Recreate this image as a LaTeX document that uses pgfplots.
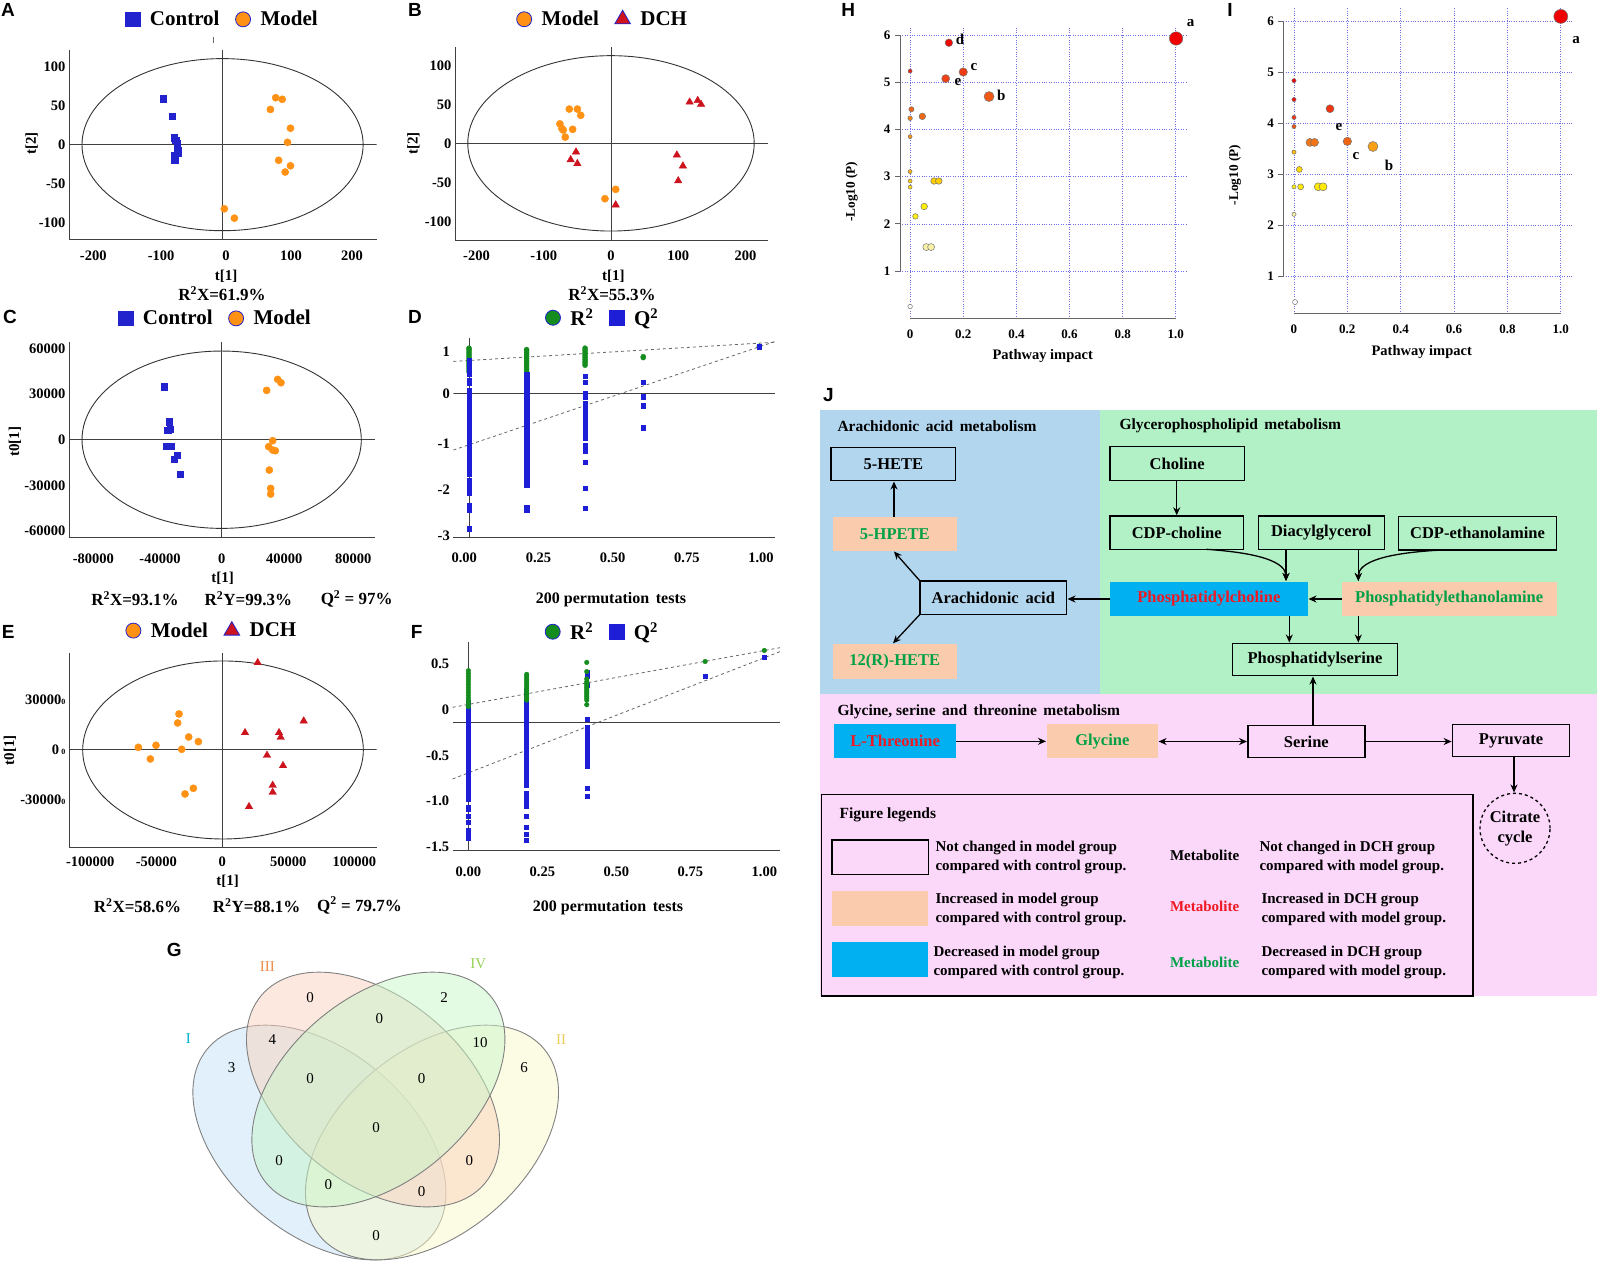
\documentclass[border=0pt]{standalone}
\usepackage{pgfplots}
\pgfplotsset{compat=1.18}
\usepackage{fontspec}
\setmainfont{Liberation Serif}
\newfontfamily\lettf{Liberation Sans}
\usetikzlibrary{arrows.meta}

\definecolor{ctrlblue}{RGB}{35,35,205}
\definecolor{modorange}{RGB}{255,146,20}
\definecolor{dchred}{RGB}{205,20,30}
\definecolor{r2green}{RGB}{20,140,30}
\definecolor{q2blue}{RGB}{30,30,215}
\definecolor{gridblue}{RGB}{110,110,230}
\definecolor{salmon}{RGB}{250,203,172}
\definecolor{cyanbox}{RGB}{0,176,240}
\definecolor{bgblue}{RGB}{178,214,238}
\definecolor{bggreen}{RGB}{178,240,198}
\definecolor{bgpink}{RGB}{251,215,250}
\definecolor{mgreen}{RGB}{0,160,70}
\definecolor{mred}{RGB}{240,25,35}
\definecolor{vI}{RGB}{195,225,245}
\definecolor{vII}{RGB}{250,248,200}
\definecolor{vIII}{RGB}{250,210,190}
\definecolor{vIV}{RGB}{200,245,200}

\newcommand{\fs}[1]{\fontsize{#1}{#1}\selectfont}

\pgfplotsset{
  base/.style={scale only axis, anchor=south west, scaled ticks=false,
    ticklabel style={font=\bfseries\fs{14.5}}, tick style={draw=none},
    axis line style={black!75, line width=0.9pt},
    axis x line*=bottom, axis y line*=left},
  toplegend/.style 2 args={legend style={draw=none, fill=none, legend columns=-1,
    font=\bfseries\fs{21}, at={(#1,#2)}, anchor=center,
    /tikz/every odd column/.append style={column sep=8pt},
    /tikz/every even column/.append style={column sep=14pt}}},
  pathway/.style={base, axis line style={draw=none}, grid=major, clip=false,
    major grid style={gridblue, dotted, line width=0.7pt},
    xtick={0,0.2,0.4,0.6,0.8,1}, xticklabels={0,0.2,0.4,0.6,0.8,1.0},
    ytick={1,2,3,4,5,6}, yticklabels={1,2,3,4,5,6},
    ticklabel style={font=\bfseries\fs{13}},
    yticklabel style={xshift=-6pt}, xticklabel style={yshift=-8pt},
    point meta min=0, point meta max=6,
    colormap={heat}{rgb255(0cm)=(255,255,255) rgb255(1.5cm)=(250,240,170)
      rgb255(2.3cm)=(255,240,0) rgb255(2.9cm)=(255,205,0) rgb255(3.6cm)=(250,160,20)
      rgb255(4.3cm)=(240,110,20) rgb255(5.2cm)=(240,60,20) rgb255(6cm)=(240,0,0)}},
  bubble/.style={scatter, only marks, mark=*, point meta=\thisrow{c},
    scatter/use mapped color={draw=black!55, fill=mapped color},
    visualization depends on={\thisrow{r} \as \rad},
    scatter/@pre marker code/.append style={/tikz/mark size=\rad pt},
    mark options={line width=0.5pt}}
}

\tikzset{
  arr/.style={-{Stealth[length=8pt,width=7pt]}, line width=1.3pt},
  bx/.style={draw=black, line width=1.4pt},
  letter/.style={font=\lettf\bfseries\fs{19}}
}

\begin{document}
\begin{tikzpicture}[x=1pt,y=1pt]
\path[use as bounding box] (0,0) rectangle (1598,-1262);

% ---------------- A
\begin{axis}[base, at={(69pt,-239.3pt)}, width=307.7pt, height=189.3pt,
  xmin=-260, xmax=261, ymin=-121, ymax=121,
  xtick={-219,-104,6,116,219}, xticklabels={-200,-100,0,100,200},
  xticklabel style={yshift=-8pt},
  ytick={-100,-50,0,50,100}, yticklabels={-100,-50,0,50,100},
  toplegend={0.499}{1.162}]
\addlegendimage{only marks, mark=square*, mark size=7.3pt, ctrlblue}
\addlegendentry{Control}
\addlegendimage{only marks, mark=*, mark size=7.5pt, mark options={fill=modorange, draw=ctrlblue, line width=0.8pt}}
\addlegendentry{Model}
\draw[black!75, line width=0.9pt] (axis cs:-260,0) -- (axis cs:261,0);
\draw[black!75, line width=0.9pt] (axis cs:0,-121) -- (axis cs:0,121);
\draw[black!80, line width=0.9pt] (axis cs:0,0) ellipse [x radius=238, y radius=110];
\addplot[only marks, mark=square*, mark size=3.2pt, ctrlblue, forget plot] coordinates {
(-100,59) (-85,36) (-82,9) (-79,6) (-77,2) (-77,-3) (-76,-7) (-75,-11) (-81,-14) (-81,-20)};
\addplot[only marks, mark=*, mark size=3.6pt, modorange, forget plot] coordinates {
(90,60) (101,58) (81,45) (115,21) (110,3) (95,-20) (115,-27) (106,-35) (3,-82) (20,-94)};
\end{axis}
\draw[black!60, line width=0.6pt] (213.3,-37) -- (213.3,-43);
\node[font=\bfseries\fs{15}, rotate=90] at (31.7,-143.3) {t[2]};
\node[font=\bfseries\fs{15}] at (226,-276) {t[1]};
\node[font=\bfseries\fs{17}] at (222,-294) {R\textsuperscript{2}X=61.9\%};

% ---------------- B
\begin{axis}[base, at={(455pt,-240pt)}, width=313.3pt, height=193.3pt,
  xmin=-232, xmax=234, ymin=-124, ymax=124,
  xtick={-200,-100,0,100,200}, xticklabels={-200,-100,0,100,200},
  xticklabel style={yshift=-7pt},
  ytick={-100,-50,0,50,100}, yticklabels={-100,-50,0,50,100},
  toplegend={0.472}{1.142}]
\addlegendimage{only marks, mark=*, mark size=7.5pt, mark options={fill=modorange, draw=ctrlblue, line width=0.8pt}}
\addlegendentry{Model}
\addlegendimage{only marks, mark=triangle*, mark size=9pt, mark options={fill=dchred, draw=ctrlblue, line width=0.8pt}}
\addlegendentry{DCH}
\draw[black!75, line width=0.9pt] (axis cs:-232,0) -- (axis cs:234,0);
\draw[black!75, line width=0.9pt] (axis cs:0,-124) -- (axis cs:0,124);
\draw[black!80, line width=0.9pt] (axis cs:0,0) ellipse [x radius=213, y radius=112.5];
\addplot[only marks, mark=*, mark size=3.6pt, modorange, forget plot] coordinates {
(-62,44) (-50,44) (-45,36) (-76,25) (-73,19) (-71,17) (-57,18) (-68,8) (-9,-71) (7,-59)};
\addplot[only marks, mark=triangle*, mark size=4.3pt, dchred, forget plot] coordinates {
(117,53) (129,55) (134,50) (-52,-11) (-60,-21) (-50,-26) (98,-15) (107,-29) (100,-48) (7,-79)};
\end{axis}
\node[font=\bfseries\fs{15}, rotate=90] at (413.3,-143.3) {t[2]};
\node[font=\bfseries\fs{15}] at (613.3,-276) {t[1]};
\node[font=\bfseries\fs{17}] at (612,-294) {R\textsuperscript{2}X=55.3\%};

% ---------------- C
\begin{axis}[base, at={(69pt,-537.7pt)}, width=306pt, height=196pt,
  xmin=-80350, xmax=80700, ymin=-64380, ymax=64380,
  xtick={-67544,-32456,0,32982,69298}, xticklabels={-80000,-40000,0,40000,80000},
  xticklabel style={yshift=-13pt},
  ytick={-60000,-30000,0,30000,60000}, yticklabels={-60000,-30000,0,30000,60000},
  toplegend={0.479}{1.119}]
\addlegendimage{only marks, mark=square*, mark size=7.3pt, ctrlblue}
\addlegendentry{Control}
\addlegendimage{only marks, mark=*, mark size=7.5pt, mark options={fill=modorange, draw=ctrlblue, line width=0.8pt}}
\addlegendentry{Model}
\draw[black!75, line width=0.9pt] (axis cs:-80350,0) -- (axis cs:80700,0);
\draw[black!75, line width=0.9pt] (axis cs:0,-64380) -- (axis cs:0,64380);
\draw[black!80, line width=0.9pt] (axis cs:0,0) ellipse [x radius=73500, y radius=58250];
\addplot[only marks, mark=square*, mark size=3.2pt, ctrlblue, forget plot] coordinates {
(-30175,34818) (-27719,11825) (-28421,6350) (-27193,7007) (-28947,-4161) (-26667,-4161)
(-23509,-10073) (-24912,-12700) (-21930,-22555)};
\addplot[only marks, mark=*, mark size=3.6pt, modorange, forget plot] coordinates {
(23684,32409) (29474,39635) (31228,37445) (26842,-657) (24737,-4599) (26842,-6788)
(28246,-7226) (25088,-19927) (25789,-31971) (25789,-35693)};
\end{axis}
\node[font=\bfseries\fs{15}, rotate=90] at (15,-441.7) {t0[1]};
\node[font=\bfseries\fs{15}] at (222.7,-578.3) {t[1]};
\node[font=\bfseries\fs{17}] at (135,-599) {R\textsuperscript{2}X=93.1\%};
\node[font=\bfseries\fs{17}] at (248.3,-599) {R\textsuperscript{2}Y=99.3\%};
\node[font=\bfseries\fs{17}] at (356.7,-599) {Q\textsuperscript{2} = 97\%};

% ---------------- D
\begin{axis}[base, at={(453.3pt,-537.3pt)}, width=321.7pt, height=199.6pt,
  xmin=-0.037, xmax=1.047, ymin=-3.03, ymax=1.18,
  y axis line style={draw=none},
  xtick={0,0.25,0.5,0.75,1}, xticklabels={0.00,0.25,0.50,0.75,1.00},
  xticklabel style={yshift=-12pt},
  ytick={0.89,0,-1.05,-2.03,-3.0}, yticklabels={1,0,-1,-2,-3},
  toplegend={0.465}{1.10}]
\addlegendimage{only marks, mark=*, mark size=7.5pt, mark options={fill=r2green, draw=ctrlblue, line width=0.8pt}}
\addlegendentry{R\textsuperscript{2}}
\addlegendimage{only marks, mark=square*, mark size=7.3pt, q2blue}
\addlegendentry{Q\textsuperscript{2}}
\draw[black!75, line width=0.9pt] (axis cs:-0.037,0) -- (axis cs:1.047,0);
\draw[black!75, line width=0.9pt] (axis cs:0.016,-3.03) -- (axis cs:0.016,1.18);
\addplot[black!60, dashed, line width=0.8pt, forget plot] coordinates {(-0.037,0.68) (1.047,1.085)};
\addplot[black!60, dashed, line width=0.8pt, forget plot] coordinates {(-0.037,-1.19) (1.047,1.10)};
\addplot[only marks, mark=*, mark size=2.5pt, r2green, forget plot] coordinates {
(0.016,0.46) (0.016,0.50) (0.016,0.54) (0.016,0.58) (0.016,0.62) (0.016,0.66) (0.016,0.70)
(0.016,0.74) (0.016,0.78) (0.016,0.82) (0.016,0.86) (0.016,0.90) (0.016,0.94) (0.016,0.96)
(0.21,0.46) (0.21,0.50) (0.21,0.54) (0.21,0.58) (0.21,0.62) (0.21,0.66) (0.21,0.70)
(0.21,0.74) (0.21,0.78) (0.21,0.82) (0.21,0.86) (0.21,0.90) (0.21,0.93)
(0.407,0.60) (0.407,0.64) (0.407,0.68) (0.407,0.72) (0.407,0.76) (0.407,0.80) (0.407,0.84)
(0.407,0.88) (0.407,0.92) (0.407,0.96)
(0.603,0.76) (0.603,0.78) (0.994,1.00)};
\addplot[only marks, mark=square*, mark size=2.2pt, q2blue, forget plot] coordinates {
(0.016,0.70) (0.016,0.66) (0.016,0.62) (0.016,0.55) (0.016,0.50) (0.016,0.45) (0.016,0.42)
(0.016,0.27) (0.016,0.22) (0.016,0.06) (0.016,0.02) (0.016,-0.02) (0.016,-0.06) (0.016,-0.10)
(0.016,-0.14) (0.016,-0.18) (0.016,-0.22) (0.016,-0.26) (0.016,-0.30) (0.016,-0.34) (0.016,-0.38)
(0.016,-0.42) (0.016,-0.46) (0.016,-0.50) (0.016,-0.54) (0.016,-0.58) (0.016,-0.62) (0.016,-0.66)
(0.016,-0.70) (0.016,-0.74) (0.016,-0.78) (0.016,-0.82) (0.016,-0.86) (0.016,-0.90) (0.016,-0.94)
(0.016,-0.98) (0.016,-1.02) (0.016,-1.06) (0.016,-1.10) (0.016,-1.14) (0.016,-1.18) (0.016,-1.22)
(0.016,-1.26) (0.016,-1.30) (0.016,-1.34) (0.016,-1.38) (0.016,-1.42) (0.016,-1.46) (0.016,-1.50)
(0.016,-1.54) (0.016,-1.58) (0.016,-1.62) (0.016,-1.66) (0.016,-1.70) (0.016,-1.83) (0.016,-1.92)
(0.016,-1.97) (0.016,-2.05) (0.016,-2.10) (0.016,-2.35) (0.016,-2.42) (0.016,-2.45) (0.016,-2.85)
(0.21,0.40) (0.21,0.36) (0.21,0.32) (0.21,0.28) (0.21,0.24) (0.21,0.20) (0.21,0.16) (0.21,0.12)
(0.21,0.08) (0.21,0.04) (0.21,0.00) (0.21,-0.04) (0.21,-0.08) (0.21,-0.12) (0.21,-0.16) (0.21,-0.20)
(0.21,-0.24) (0.21,-0.28) (0.21,-0.32) (0.21,-0.36) (0.21,-0.40) (0.21,-0.44) (0.21,-0.48) (0.21,-0.52)
(0.21,-0.56) (0.21,-0.60) (0.21,-0.64) (0.21,-0.68) (0.21,-0.72) (0.21,-0.76) (0.21,-0.80) (0.21,-0.84)
(0.21,-0.88) (0.21,-0.92) (0.21,-0.96) (0.21,-1.00) (0.21,-1.04) (0.21,-1.08) (0.21,-1.12) (0.21,-1.16)
(0.21,-1.20) (0.21,-1.24) (0.21,-1.28) (0.21,-1.32) (0.21,-1.36) (0.21,-1.40) (0.21,-1.44) (0.21,-1.48)
(0.21,-1.52) (0.21,-1.56) (0.21,-1.60) (0.21,-1.64) (0.21,-1.68) (0.21,-1.72) (0.21,-1.76) (0.21,-1.80)
(0.21,-1.84) (0.21,-1.88) (0.21,-1.92) (0.21,-2.39) (0.21,-2.46)
(0.407,0.37) (0.407,0.24) (0.407,0.00) (0.407,-0.06) (0.407,-0.20) (0.407,-0.25) (0.407,-0.35)
(0.407,-0.40) (0.407,-0.45) (0.407,-0.50) (0.407,-0.55) (0.407,-0.60) (0.407,-0.65) (0.407,-0.70)
(0.407,-0.75) (0.407,-0.80) (0.407,-0.87) (0.407,-0.94) (0.407,-1.10) (0.407,-1.16) (0.407,-1.22)
(0.407,-1.44) (0.407,-1.99) (0.407,-2.41)
(0.603,0.24) (0.603,-0.06) (0.603,-0.25) (0.603,-0.72) (0.994,0.99)};
\end{axis}
\node[font=\bfseries\fs{16}] at (611,-600) {200 permutation\, tests};

% ---------------- E
\begin{axis}[base, at={(69pt,-847.3pt)}, width=307.7pt, height=194pt,
  xmin=-116162, xmax=116919, ymin=-58600, ymax=57800,
  xtick={-100000,-50000,0,50000,100000}, xticklabels={-100000,-50000,0,50000,100000},
  xticklabel style={yshift=-6pt},
  ytick={-30000,0,30000},
  yticklabels={{-30000\fs{8}0},{0\,\fs{8}0},{30000\fs{8}0}},
  toplegend={0.465}{1.117}]
\addlegendimage{only marks, mark=*, mark size=7.5pt, mark options={fill=modorange, draw=ctrlblue, line width=0.8pt}}
\addlegendentry{Model}
\addlegendimage{only marks, mark=triangle*, mark size=9pt, mark options={fill=dchred, draw=ctrlblue, line width=0.8pt}}
\addlegendentry{DCH}
\draw[black!75, line width=0.9pt] (axis cs:-116162,0) -- (axis cs:116919,0);
\draw[black!75, line width=0.9pt] (axis cs:0,-58600) -- (axis cs:0,57800);
\draw[black!80, line width=0.9pt] (axis cs:500,-200) ellipse [x radius=106300, y radius=53400];
\addplot[only marks, mark=*, mark size=3.6pt, modorange, forget plot] coordinates {
(-32828,21400) (-33838,16000) (-25505,7600) (-18182,4800) (-50253,2600) (-63636,1400)
(-30808,200) (-54545,-5600) (-21970,-23200) (-28283,-26600)};
\addplot[only marks, mark=triangle*, mark size=4.3pt, dchred, forget plot] coordinates {
(26768,52200) (61616,17200) (17172,10200) (42929,10200) (44192,7400) (33838,-3400)
(45960,-9600) (38131,-21400) (38131,-25600) (20202,-34200)};
\end{axis}
\node[font=\bfseries\fs{15}, rotate=90] at (10,-750) {t0[1]};
\node[font=\bfseries\fs{15}] at (227.7,-881) {t[1]};
\node[font=\bfseries\fs{17}] at (137.5,-905.3) {R\textsuperscript{2}X=58.6\%};
\node[font=\bfseries\fs{17}] at (256.6,-905.3) {R\textsuperscript{2}Y=88.1\%};
\node[font=\bfseries\fs{17}] at (359.5,-905.3) {Q\textsuperscript{2} = 79.7\%};

% ---------------- F
\begin{axis}[base, at={(452.7pt,-850pt)}, width=327.3pt, height=208.3pt,
  xmin=-0.053, xmax=1.053, ymin=-1.53, ymax=0.735,
  y axis line style={draw=none},
  xtick={0,0.25,0.5,0.75,1}, xticklabels={0.00,0.25,0.50,0.75,1.00},
  xticklabel style={yshift=-13pt},
  ytick={0.5,0,-0.5,-1,-1.5}, yticklabels={0.5,0,-0.5,-1.0,-1.5},
  toplegend={0.458}{1.048}]
\addlegendimage{only marks, mark=*, mark size=7.5pt, mark options={fill=r2green, draw=ctrlblue, line width=0.8pt}}
\addlegendentry{R\textsuperscript{2}}
\addlegendimage{only marks, mark=square*, mark size=7.3pt, q2blue}
\addlegendentry{Q\textsuperscript{2}}
\draw[black!75, line width=0.9pt] (axis cs:-0.053,-0.141) -- (axis cs:1.053,-0.141);
\draw[black!75, line width=0.9pt] (axis cs:0,-1.53) -- (axis cs:0,0.735);
\addplot[black!60, dashed, line width=0.8pt, forget plot] coordinates {(-0.053,0.022) (1.053,0.67)};
\addplot[black!60, dashed, line width=0.8pt, forget plot] coordinates {(-0.053,-0.757) (1.053,0.627)};
\addplot[only marks, mark=square*, mark size=2pt, q2blue, forget plot] coordinates {
(0,0.08) (0,0.06) (0,0.04) (0,0.02) (0,0.00) (0,-0.02) (0,-0.04) (0,-0.06) (0,-0.08) (0,-0.10)
(0,-0.14) (0,-0.16) (0,-0.20) (0,-0.22) (0,-0.24) (0,-0.26) (0,-0.28) (0,-0.30) (0,-0.32) (0,-0.34)
(0,-0.36) (0,-0.38) (0,-0.40) (0,-0.42) (0,-0.44) (0,-0.46) (0,-0.48) (0,-0.50) (0,-0.52) (0,-0.54)
(0,-0.56) (0,-0.58) (0,-0.60) (0,-0.62) (0,-0.64) (0,-0.66) (0,-0.68) (0,-0.70) (0,-0.72) (0,-0.74)
(0,-0.76) (0,-0.78) (0,-0.80) (0,-0.82) (0,-0.84) (0,-0.86) (0,-0.88) (0,-0.90) (0,-0.92) (0,-0.94)
(0,-0.96) (0,-0.98) (0,-1.06) (0,-1.09) (0,-1.16) (0,-1.23) (0,-1.31) (0,-1.35) (0,-1.38) (0,-1.40)
(0.197,0.21) (0.197,0.19) (0.197,0.17) (0.197,0.15) (0.197,0.13) (0.197,0.11) (0.197,0.09) (0.197,0.07)
(0.197,0.05) (0.197,0.03) (0.197,0.01) (0.197,-0.01) (0.197,-0.03) (0.197,-0.05) (0.197,-0.07)
(0.197,-0.09) (0.197,-0.11) (0.197,-0.13) (0.197,-0.15) (0.197,-0.17) (0.197,-0.19) (0.197,-0.21)
(0.197,-0.23) (0.197,-0.25) (0.197,-0.27) (0.197,-0.29) (0.197,-0.31) (0.197,-0.33) (0.197,-0.35)
(0.197,-0.37) (0.197,-0.39) (0.197,-0.41) (0.197,-0.43) (0.197,-0.45) (0.197,-0.47) (0.197,-0.49)
(0.197,-0.51) (0.197,-0.53) (0.197,-0.55) (0.197,-0.57) (0.197,-0.59) (0.197,-0.61) (0.197,-0.63)
(0.197,-0.65) (0.197,-0.67) (0.197,-0.69) (0.197,-0.71) (0.197,-0.73) (0.197,-0.75) (0.197,-0.77)
(0.197,-0.79) (0.197,-0.81) (0.197,-0.83) (0.197,-0.91) (0.197,-0.96) (0.197,-1.00) (0.197,-1.05)
(0.197,-1.16) (0.197,-1.28) (0.197,-1.36) (0.197,-1.42)
(0.40,0.40) (0.40,0.36) (0.40,0.26) (0.40,-0.11) (0.40,-0.19) (0.40,-0.22) (0.40,-0.24) (0.40,-0.26)
(0.40,-0.28) (0.40,-0.30) (0.40,-0.32) (0.40,-0.34) (0.40,-0.36) (0.40,-0.38) (0.40,-0.40) (0.40,-0.42)
(0.40,-0.44) (0.40,-0.46) (0.40,-0.48) (0.40,-0.50) (0.40,-0.52) (0.40,-0.54) (0.40,-0.56) (0.40,-0.58)
(0.40,-0.60) (0.40,-0.62) (0.40,-0.86) (0.40,-0.95)
(0.80,0.36) (1.0,0.565)};
\addplot[only marks, mark=*, mark size=2.3pt, r2green, forget plot] coordinates {
(0,0.03) (0,0.06) (0,0.09) (0,0.12) (0,0.15) (0,0.18) (0,0.21) (0,0.24) (0,0.27) (0,0.30)
(0,0.33) (0,0.36) (0,0.39) (0,0.42)
(0.197,0.10) (0.197,0.12) (0.197,0.14) (0.197,0.16) (0.197,0.18) (0.197,0.20) (0.197,0.22)
(0.197,0.24) (0.197,0.26) (0.197,0.28) (0.197,0.30) (0.197,0.32) (0.197,0.34) (0.197,0.36) (0.197,0.38)
(0.40,0.51) (0.40,0.41) (0.40,0.33) (0.40,0.30) (0.40,0.28) (0.40,0.26) (0.40,0.24) (0.40,0.22)
(0.40,0.20) (0.40,0.18) (0.40,0.16) (0.40,0.14) (0.40,0.12) (0.40,0.10) (0.40,0.05)
(0.80,0.52) (1.0,0.64)};
\end{axis}
\node[font=\bfseries\fs{16}] at (608,-907.3) {200 permutation\, tests};

% ---------------- H
\begin{axis}[pathway, at={(900pt,-318.3pt)}, width=286.7pt, height=291.6pt,
  xmin=-0.038, xmax=1.041, ymin=0, ymax=6.18]
\addplot[bubble] table {
x y r c
0 0.25 2.3 0
0.061 1.51 3.5 1.5
0.079 1.51 3.5 1.5
0.020 2.16 2.8 2.2
0.053 2.37 3.3 2.3
0.090 2.91 3.3 2.9
0.108 2.91 3.3 2.9
0 2.78 2.0 2.6
0 2.91 2.0 3.0
0 3.11 2.0 3.3
0 3.85 2.0 3.8
0 4.24 2.3 4.0
0.046 4.28 3.3 4.4
0.005 4.43 2.6 4.5
0 5.24 2.0 5.6
0.297 4.70 5.0 4.7
0.134 5.08 4.0 5.1
0.200 5.22 4.2 5.2
0.146 5.84 3.8 5.9
1.001 5.93 6.7 6
};
\draw[black!60, line width=1pt] (axis cs:-0.038,1) -- (axis cs:-0.038,6);
\draw[black!60, line width=1pt] (axis cs:-0.038,1) -- ++(-5pt,0pt);
\draw[black!60, line width=1pt] (axis cs:-0.038,2) -- ++(-5pt,0pt);
\draw[black!60, line width=1pt] (axis cs:-0.038,3) -- ++(-5pt,0pt);
\draw[black!60, line width=1pt] (axis cs:-0.038,4) -- ++(-5pt,0pt);
\draw[black!60, line width=1pt] (axis cs:-0.038,5) -- ++(-5pt,0pt);
\draw[black!60, line width=1pt] (axis cs:-0.038,6) -- ++(-5pt,0pt);
\draw[black!60, line width=1pt] (axis cs:0,0) -- (axis cs:1,0);
\end{axis}
\node[font=\bfseries\fs{14.5}] at (1042.7,-356) {Pathway impact};
\node[font=\bfseries\fs{13.3}, rotate=90] at (851.7,-191.7) {-Log10 (P)};
\node[font=\bfseries\fs{15}] at (1190.7,-23.3) {a};
\node[font=\bfseries\fs{15}] at (960,-39) {d};
\node[font=\bfseries\fs{15}] at (974,-66.7) {c};
\node[font=\bfseries\fs{15}] at (958,-82.3) {e};
\node[font=\bfseries\fs{15}] at (1001.3,-95) {b};

% ---------------- I
\begin{axis}[pathway, at={(1283.3pt,-313.3pt)}, width=290pt, height=306.6pt,
  xmin=-0.04, xmax=1.047, ymin=0.28, ymax=6.29]
\addplot[bubble] table {
x y r c
0.004 0.50 2.5 0
0 2.22 2.1 1.5
0 2.76 2.1 2.2
0.025 2.76 3.0 2.4
0.091 2.76 4.0 2.4
0.109 2.76 4.0 2.4
0.020 3.10 3.0 2.7
0 3.44 2.1 3.2
0.296 3.55 5.0 3.6
0.060 3.63 4.0 4.2
0.077 3.63 4.0 4.2
0.200 3.65 4.2 4.5
0 3.94 2.1 4.8
0 4.12 2.1 5.3
0.135 4.29 4.0 5.3
0 4.47 2.1 5.8
0 4.84 2.1 6
1.000 6.10 7.0 6
};
\draw[black!60, line width=1pt] (axis cs:-0.04,1) -- (axis cs:-0.04,6);
\draw[black!60, line width=1pt] (axis cs:-0.04,1) -- ++(-5pt,0pt);
\draw[black!60, line width=1pt] (axis cs:-0.04,2) -- ++(-5pt,0pt);
\draw[black!60, line width=1pt] (axis cs:-0.04,3) -- ++(-5pt,0pt);
\draw[black!60, line width=1pt] (axis cs:-0.04,4) -- ++(-5pt,0pt);
\draw[black!60, line width=1pt] (axis cs:-0.04,5) -- ++(-5pt,0pt);
\draw[black!60, line width=1pt] (axis cs:-0.04,6) -- ++(-5pt,0pt);
\draw[black!60, line width=1pt] (axis cs:0,0.28) -- (axis cs:1,0.28);
\end{axis}
\node[font=\bfseries\fs{14.5}] at (1421.7,-351.7) {Pathway impact};
\node[font=\bfseries\fs{13.3}, rotate=90] at (1235,-175) {-Log10 (P)};
\node[font=\bfseries\fs{15}] at (1576,-40) {a};
\node[font=\bfseries\fs{15}] at (1339,-126.7) {e};
\node[font=\bfseries\fs{15}] at (1356,-156) {c};
\node[font=\bfseries\fs{15}] at (1389,-165) {b};

% ---------------- G (Venn)
\begin{scope}[draw=black!50, line width=0.9pt, fill opacity=0.5]
\filldraw[fill=vI, rotate around={-40:(319.4,-1142.5)}] (319.4,-1142.5) ellipse [x radius=146, y radius=92];
\filldraw[fill=vII, rotate around={40:(432,-1142.5)}] (432,-1142.5) ellipse [x radius=146, y radius=92];
\filldraw[fill=vIII, rotate around={-40:(373,-1089.5)}] (373,-1089.5) ellipse [x radius=146, y radius=92];
\filldraw[fill=vIV, rotate around={40:(378.4,-1089.5)}] (378.4,-1089.5) ellipse [x radius=146, y radius=92];
\end{scope}
\begin{scope}[every node/.style={font=\fs{15}}]
\node[text={rgb,255:red,0;green,175;blue,205}] at (188.3,-1039) {I};
\node[text={rgb,255:red,240;green,140;blue,70}] at (267.3,-966.7) {III};
\node[text={rgb,255:red,150;green,210;blue,90}] at (478.3,-963.3) {IV};
\node[text={rgb,255:red,235;green,205;blue,90}] at (561,-1040) {II};
\node at (310,-997.7) {0};
\node at (444,-997.7) {2};
\node at (379.3,-1019) {0};
\node at (272.3,-1040) {4};
\node at (480,-1042.7) {10};
\node at (231.7,-1067.7) {3};
\node at (524,-1067.7) {6};
\node at (310,-1078.3) {0};
\node at (421.7,-1078.3) {0};
\node at (376,-1127.3) {0};
\node at (279,-1160.7) {0};
\node at (469.3,-1160.7) {0};
\node at (328.3,-1185) {0};
\node at (421.7,-1191.7) {0};
\node at (376,-1236) {0};
\end{scope}

% ---------------- J (pathway diagram)
\fill[bgblue] (820,-410) rectangle (1100,-694);
\fill[bggreen] (1100,-410) rectangle (1597,-694);
\fill[bgpink] (820,-694) rectangle (1597,-996);
\node[anchor=west, font=\bfseries\fs{15.5}] at (834,-426) {Arachidonic\, acid\, metabolism};
\node[anchor=west, font=\bfseries\fs{15.5}] at (1116,-426) {Glycerophospholipid\, metabolism};
\node[anchor=west, font=\bfseries\fs{15.5}] at (834,-711.7) {Glycine, serine\, and\, threonine\, metabolism};
\begin{scope}[every node/.style={font=\bfseries\fs{16.5}}]
\draw[bx] (831,-447.3) rectangle (955.7,-480.7); \node at (893.3,-464) {5-HETE};
\fill[salmon] (833,-516.7) rectangle (956.7,-550.7); \node[text=mgreen] at (894.8,-533.7) {5-HPETE};
\fill[salmon] (833,-644) rectangle (956.7,-679); \node[text=mgreen] at (894.8,-661.5) {12(R)-HETE};
\draw[bx] (920,-581) rectangle (1066.7,-614.3); \node at (993.3,-597.7) {Arachidonic\, acid};
\draw[bx] (1110,-446.7) rectangle (1244.3,-480.7); \node at (1177.2,-463.7) {Choline};
\draw[bx] (1110,-516) rectangle (1243.3,-549.3); \node at (1176.7,-532.7) {CDP-choline};
\draw[bx] (1258.3,-516) rectangle (1384.3,-549.3); \node at (1321.3,-532.7) {Diacylglycerol};
\draw[bx] (1398.3,-516.7) rectangle (1556.7,-550); \node at (1477.5,-533.3) {CDP-ethanolamine};
\fill[cyanbox] (1110,-581.7) rectangle (1307.7,-615.7); \node[text=mred] at (1208.8,-598.7) {Phosphatidylcholine};
\fill[salmon] (1341.7,-581.7) rectangle (1556.7,-615.7); \node[text=mgreen] at (1449.2,-598.7) {Phosphatidylethanolamine};
\draw[bx] (1232.7,-643.3) rectangle (1397.3,-675.7); \node at (1315,-659.5) {Phosphatidylserine};
\fill[cyanbox] (834,-724.3) rectangle (956.2,-758.3); \node[text=mred] at (895.1,-741.3) {L-Threonine};
\fill[salmon] (1046.8,-724.3) rectangle (1157.8,-758.3); \node[text=mgreen] at (1102.3,-741.3) {Glycine};
\draw[bx] (1247.8,-725.7) rectangle (1364.9,-757.3); \node at (1306.3,-741.5) {Serine};
\draw[bx] (1452.4,-724.3) rectangle (1569.5,-756.7); \node at (1511,-740.5) {Pyruvate};
\draw[line width=1.3pt, dashed] (1515,-828.3) circle (35);
\node[align=center, font=\bfseries\fontsize{16.5}{20}\selectfont] at (1515,-828.3) {Citrate\\cycle};
\end{scope}
\draw[arr] (894,-516.7) -- (894,-481.5);
\draw[arr] (920,-581) -- (894,-551.5);
\draw[arr] (920,-614.3) -- (893,-643.3);
\draw[arr] (1110,-599) -- (1067.5,-599);
\draw[arr] (1176.7,-480.7) -- (1176.7,-515.3);
\draw[arr] (1206.7,-549.3) .. controls (1260,-553) and (1286,-562) .. (1286,-581);
\draw[arr] (1286,-549.3) -- (1286,-581);
\draw[arr] (1358.3,-549.3) -- (1358.3,-581);
\draw[arr] (1441.7,-550) .. controls (1385,-553) and (1358.3,-562) .. (1358.3,-581);
\draw[arr] (1341.7,-599) -- (1308.5,-599);
\draw[arr] (1289.3,-615.7) -- (1289.3,-642.5);
\draw[arr] (1358.3,-615.7) -- (1358.3,-642.5);
\draw[arr] (1313,-725.7) -- (1313,-676.5);
\draw[arr] (956.2,-741.3) -- (1046,-741.3);
\draw[arr, {Stealth[length=8pt,width=7pt]}-{Stealth[length=8pt,width=7pt]}] (1158.6,-741.5) -- (1247,-741.5);
\draw[arr] (1364.9,-741.5) -- (1451.6,-741.5);
\draw[arr] (1514,-756.7) -- (1514,-792.5);
% legend of J
\draw[line width=1.5pt] (821.4,-794.3) rectangle (1472.8,-996);
\node[anchor=west, font=\bfseries\fs{15.5}] at (836,-815) {Figure legends};
\draw[line width=1.4pt] (832,-840) rectangle (928.2,-874.3);
\fill[salmon] (832,-891) rectangle (928.2,-925.7);
\fill[cyanbox] (832,-942.3) rectangle (928.2,-976.7);
\begin{scope}[every node/.style={font=\bfseries\fontsize{15}{18.5}\selectfont, align=left}]
\node[anchor=west] at (932,-857.5) {Not changed in model group\\compared with control group.};
\node[anchor=west] at (932,-909.3) {Increased in model group\\compared with control group.};
\node[anchor=west] at (930,-962.2) {Decreased in model group\\compared with control group.};
\node[anchor=west] at (1256,-857.5) {Not changed in DCH group\\compared with model group.};
\node[anchor=west] at (1258,-909.3) {Increased in DCH group\\compared with model group.};
\node[anchor=west] at (1258,-962.2) {Decreased in DCH group\\compared with model group.};
\node at (1204.6,-855) {Metabolite};
\node[text=mred] at (1204.6,-906.7) {Metabolite};
\node[text=mgreen] at (1204.6,-962.7) {Metabolite};
\end{scope}

% ---------------- panel letters
\node[letter] at (8,-10) {A};
\node[letter] at (415,-10) {B};
\node[letter] at (10,-316.7) {C};
\node[letter] at (415,-316.7) {D};
\node[letter] at (8.3,-631.7) {E};
\node[letter] at (416.7,-631.7) {F};
\node[letter] at (174.3,-950) {G};
\node[letter] at (848.3,-10) {H};
\node[letter] at (1230,-10) {I};
\node[letter] at (828.3,-395) {J};
\end{tikzpicture}
\end{document}
